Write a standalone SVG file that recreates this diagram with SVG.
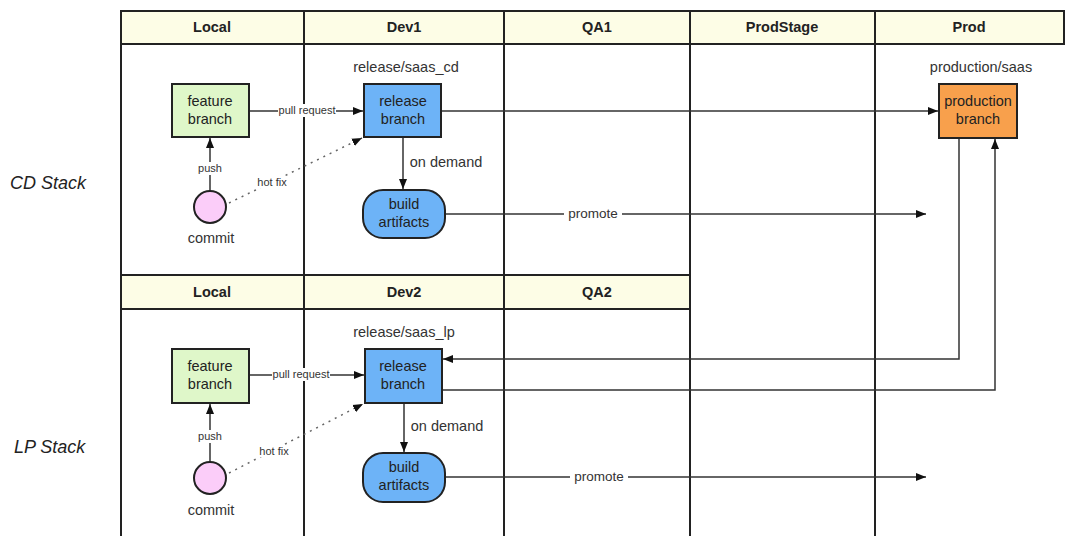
<svg xmlns="http://www.w3.org/2000/svg" width="1065" height="536" viewBox="0 0 1065 536">
<defs>
<style>
text{font-family:"Liberation Sans",Arial,sans-serif;fill:#222}
.hdr{fill:#fdfde6;stroke:#222;stroke-width:2}
.grid{stroke:#222;stroke-width:2;fill:none}
.ht{font-size:14.5px;font-weight:bold;text-anchor:middle}
.nt{font-size:14.5px;text-anchor:middle}
.lbl{font-size:14.5px;text-anchor:middle;fill:#333}
.pm{font-size:13.5px;text-anchor:middle;fill:#333}
.sm{font-size:11px;text-anchor:middle;fill:#333}
.stack{font-size:18px;font-style:italic;fill:#222}
.feat{fill:#dff7c9;stroke:#222;stroke-width:2}
.rel{fill:#6db3f7;stroke:#222;stroke-width:2}
.prod{fill:#f8a04c;stroke:#222;stroke-width:2}
.commit{fill:#fbcdf9;stroke:#222;stroke-width:2}
.c{stroke:#333;stroke-width:1.5;fill:none}
.dot{stroke:#666;stroke-width:1.5;fill:none;stroke-dasharray:2 5}
</style>
<marker id="arr" viewBox="0 0 10 10" refX="10" refY="5" markerWidth="10" markerHeight="10" markerUnits="userSpaceOnUse" orient="auto">
<path d="M0,1 L10,5 L0,9 z" fill="#111"/>
</marker>
</defs>
<rect width="1065" height="536" fill="#fff"/>

<g id="grid">
<rect class="hdr" x="121" y="11" width="943" height="33"/>
<rect class="hdr" x="121" y="275" width="569" height="34"/>
<line class="grid" x1="121" y1="44" x2="121" y2="536"/>
<line class="grid" x1="304" y1="11" x2="304" y2="536"/>
<line class="grid" x1="504" y1="11" x2="504" y2="536"/>
<line class="grid" x1="690" y1="11" x2="690" y2="536"/>
<line class="grid" x1="875" y1="11" x2="875" y2="536"/>
<text class="ht" x="212" y="32">Local</text>
<text class="ht" x="404" y="32">Dev1</text>
<text class="ht" x="597" y="32">QA1</text>
<text class="ht" x="782" y="32">ProdStage</text>
<text class="ht" x="969" y="32">Prod</text>
<text class="ht" x="212" y="297">Local</text>
<text class="ht" x="404" y="297">Dev2</text>
<text class="ht" x="597" y="297">QA2</text>
<text class="stack" x="10" y="189">CD Stack</text>
<text class="stack" x="14" y="453">LP Stack</text>
</g>

<g id="connectors">
<!-- CD -->
<line class="c" x1="249" y1="111" x2="363" y2="111" marker-end="url(#arr)"/>
<line class="c" x1="210" y1="191" x2="210" y2="138" marker-end="url(#arr)"/>
<line class="dot" x1="229" y1="203" x2="362" y2="138" marker-end="url(#arr)"/>
<line class="c" x1="403" y1="138" x2="403" y2="189" marker-end="url(#arr)"/>
<line class="c" x1="442" y1="111" x2="938" y2="111" marker-end="url(#arr)"/>
<line class="c" x1="446" y1="214" x2="926" y2="214" marker-end="url(#arr)"/>
<!-- LP -->
<line class="c" x1="249" y1="375" x2="364" y2="375" marker-end="url(#arr)"/>
<line class="c" x1="210" y1="462" x2="210" y2="404" marker-end="url(#arr)"/>
<line class="dot" x1="229" y1="473" x2="363" y2="404" marker-end="url(#arr)"/>
<line class="c" x1="404" y1="404" x2="404" y2="452" marker-end="url(#arr)"/>
<line class="c" x1="446" y1="477" x2="926" y2="477" marker-end="url(#arr)"/>
<!-- prod links -->
<polyline class="c" points="959,138 959,359 443,359" marker-end="url(#arr)"/>
<polyline class="c" points="442,390 995,390 995,139" marker-end="url(#arr)"/>
<!-- labels -->
<rect x="278" y="104" width="58" height="13" fill="#fff"/>
<text class="sm" x="307" y="114">pull request</text>
<rect x="196" y="162" width="28" height="13" fill="#fff"/>
<text class="sm" x="210" y="172">push</text>
<rect x="256" y="176" width="32" height="12" fill="#fff"/>
<text class="sm" x="272" y="186">hot fix</text>
<text class="lbl" x="446" y="167">on demand</text>
<rect x="564" y="206" width="58" height="15" fill="#fff"/>
<text class="pm" x="593" y="218">promote</text>
<rect x="272" y="368" width="58" height="13" fill="#fff"/>
<text class="sm" x="301" y="378">pull request</text>
<rect x="196" y="430" width="28" height="13" fill="#fff"/>
<text class="sm" x="210" y="440">push</text>
<rect x="258" y="445" width="32" height="12" fill="#fff"/>
<text class="sm" x="274" y="455">hot fix</text>
<text class="lbl" x="447" y="431">on demand</text>
<rect x="570" y="469" width="58" height="15" fill="#fff"/>
<text class="pm" x="599" y="481">promote</text>
</g>

<g id="cd-feature">
<rect class="feat" x="172" y="84" width="77" height="53"/>
<text class="nt" x="210" y="106">feature</text>
<text class="nt" x="210" y="124">branch</text>
</g>
<g id="cd-release">
<text class="lbl" x="406" y="72">release/saas_cd</text>
<rect class="rel" x="364" y="84" width="77" height="53"/>
<text class="nt" x="403" y="106">release</text>
<text class="nt" x="403" y="124">branch</text>
</g>
<g id="cd-build">
<rect class="rel" x="363" y="190" width="82" height="48" rx="20"/>
<text class="nt" x="404" y="209">build</text>
<text class="nt" x="404" y="227">artifacts</text>
</g>
<g id="cd-commit">
<circle class="commit" cx="210" cy="207" r="16"/>
<text class="lbl" x="211" y="243">commit</text>
</g>
<g id="prod-branch">
<text class="lbl" x="981" y="72">production/saas</text>
<rect class="prod" x="939" y="84" width="78" height="54"/>
<text class="nt" x="978" y="106">production</text>
<text class="nt" x="978" y="124">branch</text>
</g>

<g id="lp-feature">
<rect class="feat" x="172" y="349" width="77" height="54"/>
<text class="nt" x="210" y="371">feature</text>
<text class="nt" x="210" y="389">branch</text>
</g>
<g id="lp-release">
<text class="lbl" x="404" y="337">release/saas_lp</text>
<rect class="rel" x="365" y="349" width="77" height="54"/>
<text class="nt" x="403" y="371">release</text>
<text class="nt" x="403" y="389">branch</text>
</g>
<g id="lp-build">
<rect class="rel" x="363" y="453" width="82" height="49" rx="20"/>
<text class="nt" x="404" y="472">build</text>
<text class="nt" x="404" y="490">artifacts</text>
</g>
<g id="lp-commit">
<circle class="commit" cx="210" cy="478" r="16"/>
<text class="lbl" x="211" y="515">commit</text>
</g>
</svg>
